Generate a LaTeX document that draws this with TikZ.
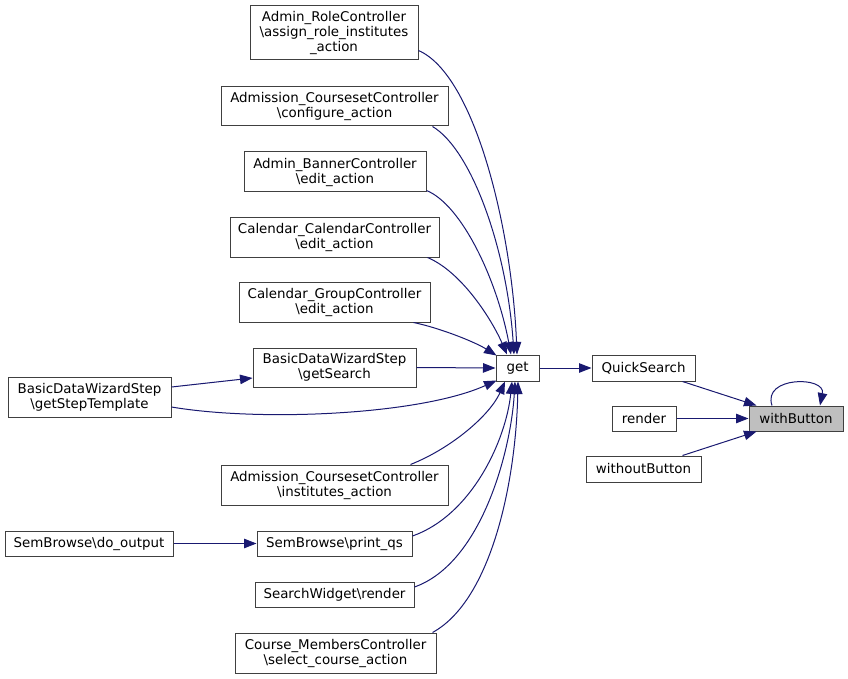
\documentclass[tikz,border=0pt]{standalone}
\usepackage{fontspec}
\setmainfont{DejaVu Sans}
\usetikzlibrary{arrows.meta}
\definecolor{edgeblue}{HTML}{191970}
\definecolor{boxline}{HTML}{404040}
\definecolor{boxfill}{HTML}{BFBFBF}
\tikzset{
  fn/.style={draw=boxline, line width=1pt, inner sep=0pt, align=center, font=\fontsize{13.4}{15}\selectfont},
  cur/.style={fn, fill=boxfill},
  call/.style={draw=edgeblue, line width=1pt, -{Triangle[length=12.5pt,width=9.5pt]}}
}
\newcommand{\us}{\_}
\newcommand{\bs}{\textbackslash{}}
\begin{document}
\begin{tikzpicture}[x=1pt,y=-1pt]
\useasboundingbox (0,0) rectangle (848,679);
% nodes
\node[fn, minimum width=168pt, minimum height=54pt] (ar) at (334,33) {Admin\us RoleController\\\bs assign\us role\us institutes\\\us action};
\node[fn, minimum width=227pt, minimum height=39pt] (acc) at (334.5,106.5) {Admission\us CoursesetController\\\bs configure\us action};
\node[fn, minimum width=182pt, minimum height=40pt] (ab) at (335,172) {Admin\us BannerController\\\bs edit\us action};
\node[fn, minimum width=209pt, minimum height=40pt] (cc) at (334.5,237) {Calendar\us CalendarController\\\bs edit\us action};
\node[fn, minimum width=191pt, minimum height=40pt] (cg) at (334.5,302) {Calendar\us GroupController\\\bs edit\us action};
\node[fn, minimum width=163pt, minimum height=39pt] (bds) at (334.5,367.5) {BasicDataWizardStep\\\bs getSearch};
\node[fn, minimum width=163pt, minimum height=40pt] (bdt) at (89.5,397) {BasicDataWizardStep\\\bs getStepTemplate};
\node[fn, minimum width=227pt, minimum height=40pt] (aci) at (334.5,485) {Admission\us CoursesetController\\\bs institutes\us action};
\node[fn, minimum width=155pt, minimum height=25pt] (sbp) at (334.5,543.5) {SemBrowse\bs print\us qs};
\node[fn, minimum width=168pt, minimum height=25pt] (sbd) at (89,543.5) {SemBrowse\bs do\us output};
\node[fn, minimum width=159pt, minimum height=25pt] (sw) at (334.5,594.5) {SearchWidget\bs render};
\node[fn, minimum width=201pt, minimum height=40pt] (cm) at (335.5,653) {Course\us MembersController\\\bs select\us course\us action};
\node[fn, minimum width=43pt, minimum height=26pt] (get) at (517.5,368) {get};
\node[fn, minimum width=103pt, minimum height=26pt] (qs) at (643.5,368) {QuickSearch};
\node[fn, minimum width=64pt, minimum height=25pt] (rd) at (644,418.5) {render};
\node[cur, minimum width=94pt, minimum height=25pt] (wb) at (796,418.5) {withButton};
\node[fn, minimum width=115pt, minimum height=26pt] (wob) at (643.5,469) {withoutButton};
% edges into get (top)
\draw[call] ([yshift=10pt]ar.south east) .. controls (475,75) and (512,230) .. ([xshift=-0.5pt]get.north);
\draw[call] ([xshift=-16pt]acc.south east) .. controls (472,150) and (507,250) .. ([xshift=-3.5pt]get.north);
\draw[call] ([yshift=2pt]ab.south east) .. controls (462,205) and (497,280) .. ([xshift=-6.5pt]get.north);
\draw[call] ([xshift=-12pt]cc.south east) .. controls (462,272) and (492,320) .. ([xshift=-10.5pt]get.north);
\draw[call] ([xshift=-17pt]cg.south east) .. controls (440,328) and (475,342) .. ([xshift=1pt,yshift=-1pt]get.north west);
% left
\draw[call] (bds.east) -- (get.west);
\draw[call] ([yshift=10pt]bdt.east) -- ([yshift=-10.5pt]bds.west);
\draw[call] ([yshift=-10pt]bdt.east) .. controls (260,422) and (420,415) .. ([xshift=1pt,yshift=1pt]get.south west);
% edges into get (bottom)
\draw[call] ([xshift=-38pt]aci.north east) .. controls (452,448) and (490,415) .. ([xshift=-12.5pt]get.south);
\draw[call] ([yshift=7.5pt]sbp.east) .. controls (472,515) and (506,440) .. ([xshift=-5.5pt]get.south);
\draw[call] ([yshift=7.5pt]sw.east) .. controls (482,563) and (511,450) .. ([xshift=-2.5pt]get.south);
\draw[call] ([xshift=-4pt]cm.north east) .. controls (492,600) and (516,480) .. ([xshift=0.5pt]get.south);
\draw[call] (sbd.east) -- (sbp.west);
% right part
\draw[call] (get.east) -- (qs.west);
\draw[call] ([xshift=-13pt]qs.south east) -- ([xshift=8pt]wb.north west);
\draw[call] (rd.east) -- (wb.west);
\draw[call] ([xshift=-19pt]wob.north east) -- ([xshift=8pt]wb.south west);
\draw[call] ([xshift=-24pt]wb.north) .. controls (762,376) and (826,376) .. ([xshift=24pt]wb.north);
\end{tikzpicture}
\end{document}
